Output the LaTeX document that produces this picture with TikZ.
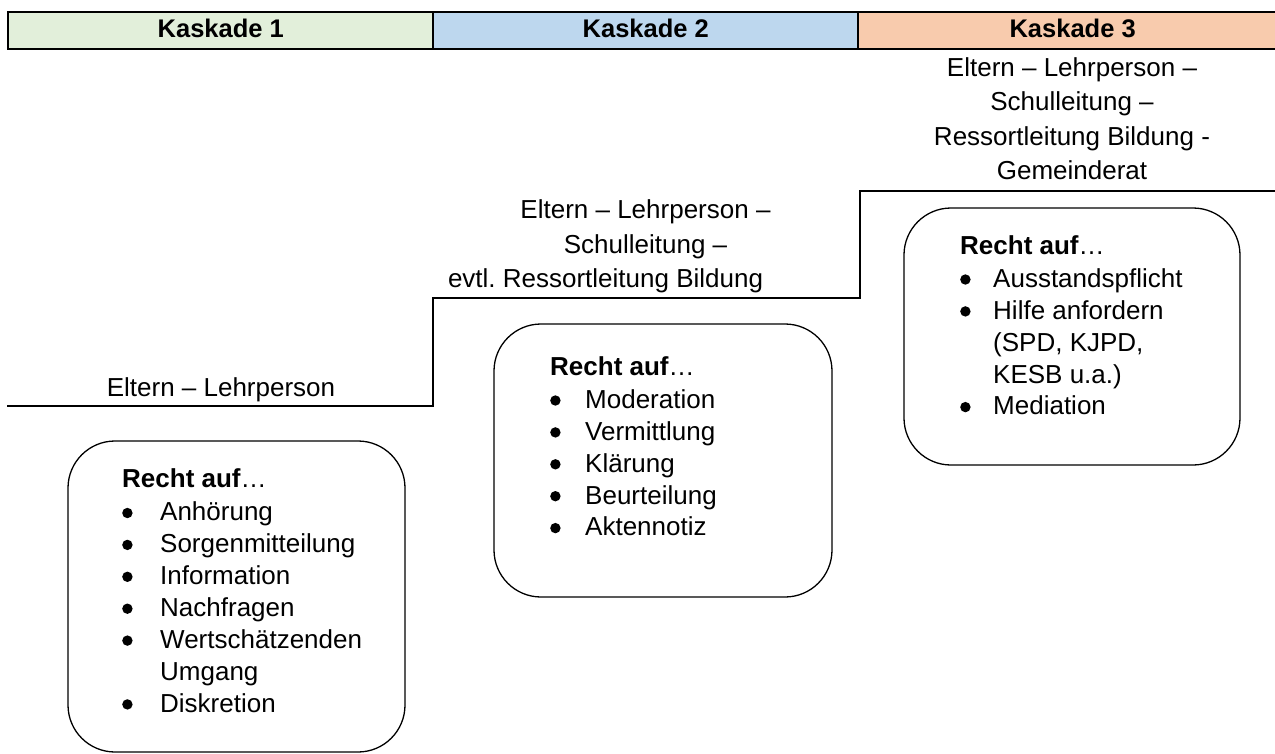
\documentclass[tikz,border=0pt]{standalone}
\usepackage{fontspec}
\setmainfont{Liberation Sans}
\frenchspacing
\definecolor{hgreen}{HTML}{E2EFDA}
\definecolor{hblue}{HTML}{BDD7EE}
\definecolor{horange}{HTML}{F8CBAD}
\newcommand\bul{\tikz[baseline=0pt]\fill (5.2pt,7.8pt) circle[radius=5.2pt];}
\newcommand\itm[2]{\makebox[#1][l]{\bul}#2}
\newcommand\cont[2]{\makebox[#1]{}#2}
\newcommand\fst{\rule{0pt}{20pt}}
\tikzset{
  hdr/.style={draw, line width=2pt, minimum height=36.7pt, minimum width=425pt,
    inner sep=0pt, outer sep=0pt, font=\fontsize{25.5}{30}\selectfont\bfseries,
    text height=18.6pt, text depth=4.6pt},
  stairlabel/.style={inner sep=0pt, align=center, font=\fontsize{26}{34.6}\selectfont},
  stair/.style={line width=2pt},
  rbox/.style={draw, line width=1.3pt, rounded corners=47pt, inner sep=0pt, outer sep=0pt},
  boxtext/.style={inner sep=0pt, align=left, anchor=north west, font=\fontsize{26}{31.9}\selectfont}
}
\begin{document}
\begin{tikzpicture}[x=1pt,y=-1pt]
\useasboundingbox (0,0) rectangle (1275,753);
\clip (0,0) rectangle (1275,753);
% header
\node[hdr, fill=hgreen, anchor=north west] (h1) at (8.3,12) {Kaskade 1};
\node[hdr, fill=hblue, anchor=west] (h2) at (h1.east) {Kaskade 2};
\node[hdr, fill=horange, anchor=west, minimum width=428.7pt] (h3) at (h2.east) {Kaskade 3};
% staircase
\coordinate (p0) at (7,405.7);
\coordinate (p1) at (433,405.7);
\coordinate (p2) at (433,298);
\coordinate (p3) at (860,298);
\coordinate (p4) at (860,190.7);
\coordinate (p5) at (1290,190.7);
\draw[stair] (p0) -- (p1) -- (p2) -- (p3) -- (p4) -- (p5);
% step labels
\node[stairlabel, anchor=base] (s1) at (221,396) {Eltern – Lehrperson};
\node[stairlabel, anchor=north] (s2) at (645.5,198.5)
  {\fst Eltern – Lehrperson –\\Schulleitung –\\\makebox[395pt][l]{evtl. Ressortleitung Bildung}};
\node[stairlabel, anchor=north] (s3) at (1072,55.8)
  {\fst Eltern – Lehrperson –\\Schulleitung –\\Ressortleitung Bildung -\\Gemeinderat};
% boxes
\node[rbox, anchor=north west, minimum width=337pt, minimum height=311pt] (b1) at (68,441) {};
\node[rbox, anchor=north west, minimum width=338pt, minimum height=273pt] (b2) at (494,324) {};
\node[rbox, anchor=north west, minimum width=336pt, minimum height=257pt] (b3) at (904,208) {};
\node[boxtext] (t1) at (122,467.5)
  {\fst\textbf{Recht auf}…\\[1.2pt]
   \itm{38pt}{Anhörung}\\
   \itm{38pt}{Sorgenmitteilung}\\
   \itm{38pt}{Information}\\
   \itm{38pt}{Nachfragen}\\
   \itm{38pt}{Wertschätzenden}\\
   \cont{38pt}{Umgang}\\
   \itm{38pt}{Diskretion}};
\node[boxtext] (t2) at (550,355)
  {\fst\textbf{Recht auf}…\\[1.2pt]
   \itm{35pt}{Moderation}\\
   \itm{35pt}{Vermittlung}\\
   \itm{35pt}{Klärung}\\
   \itm{35pt}{Beurteilung}\\
   \itm{35pt}{Aktennotiz}};
\node[boxtext] (t3) at (960,234)
  {\fst\textbf{Recht auf}…\\[1.2pt]
   \itm{33pt}{Ausstandspflicht}\\
   \itm{33pt}{Hilfe anfordern}\\
   \cont{33pt}{(SPD, KJPD,}\\
   \cont{33pt}{KESB u.a.)}\\
   \itm{33pt}{Mediation}};
\end{tikzpicture}
\end{document}
